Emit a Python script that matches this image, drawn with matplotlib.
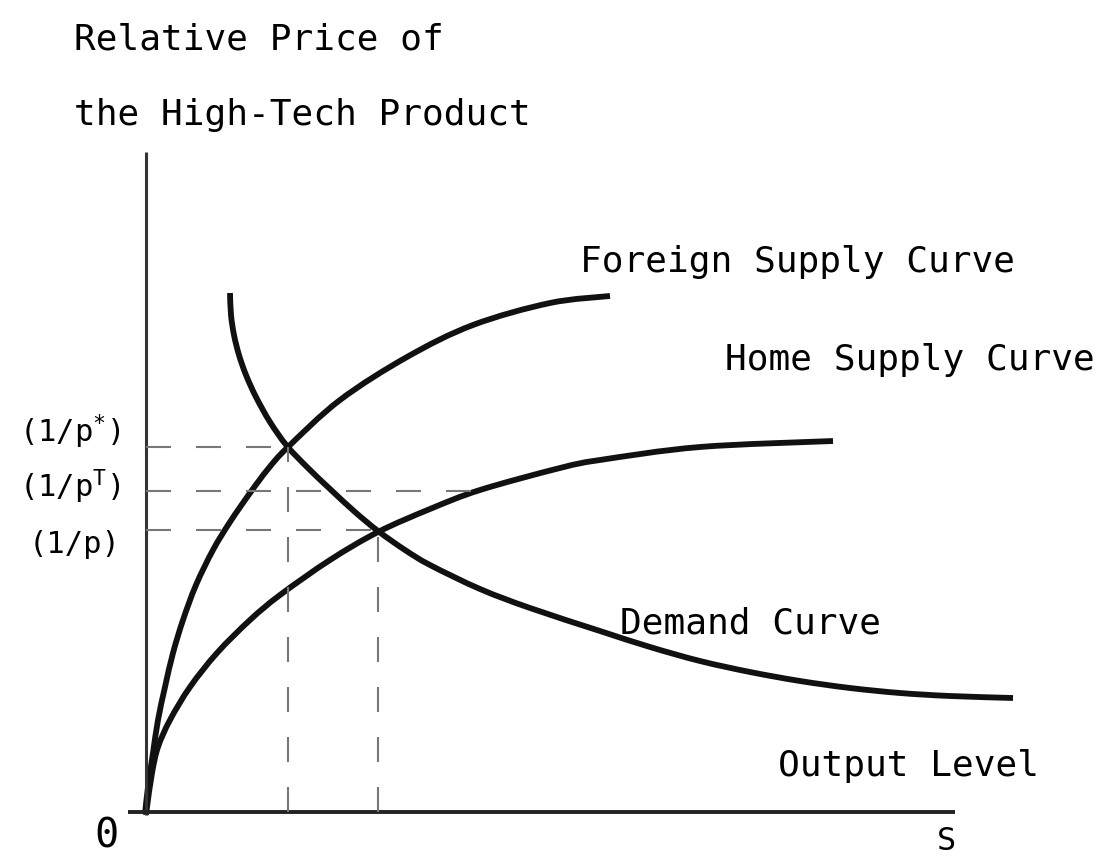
import matplotlib
matplotlib.use('Agg')
import matplotlib.pyplot as plt
from matplotlib.path import Path
from matplotlib.patches import PathPatch
import numpy as np

plt.rcParams['font.family'] = ['DejaVu Sans Mono', 'DejaVu Sans']
plt.rcParams['mathtext.fontset'] = 'custom'
plt.rcParams['mathtext.rm'] = 'DejaVu Sans Mono'
plt.rcParams['mathtext.default'] = 'rm'
plt.rcParams['lines.scale_dashes'] = False

# curves (output level, relative price)
foreign_x = [-0.01, 0.02, 0.07, 0.12, 0.19, 0.27, 0.37, 0.50, 0.67, 0.84, 1.04,
             1.22, 1.42, 1.94, 2.61, 3.27, 4.04, 4.64]
foreign_y = [-0.02, 0.25, 0.59, 0.92, 1.25, 1.59, 1.92, 2.27, 2.62, 2.90, 3.19,
             3.43, 3.65, 4.12, 4.55, 4.87, 5.09, 5.16]

home_x = [0.00, 0.01, 0.06, 0.12, 0.24, 0.44, 0.71, 1.04, 1.34, 1.84, 2.32,
          2.84, 3.34, 4.14, 4.54, 5.54, 6.87]
home_y = [-0.03, 0.05, 0.39, 0.65, 0.92, 1.25, 1.59, 1.92, 2.17, 2.52, 2.80,
          3.03, 3.22, 3.44, 3.52, 3.65, 3.71]

demand_x = [0.84, 0.85, 0.88, 0.93, 1.00, 1.10, 1.24, 1.41, 1.62, 1.84, 2.09,
            2.32, 2.59, 2.84, 3.34, 3.84, 4.54, 5.04, 5.54, 6.04, 6.54, 7.04,
            7.54, 8.04, 8.67]
demand_y = [5.19, 4.97, 4.77, 4.57, 4.37, 4.15, 3.90, 3.66, 3.44, 3.23, 3.00,
            2.81, 2.62, 2.47, 2.23, 2.04, 1.81, 1.65, 1.51, 1.40, 1.31, 1.24,
            1.19, 1.16, 1.14]

# price levels and the quantities where the dashed guides stop
price_levels = [3.65, 3.21, 2.82]
price_labels = [r'(1/p$^{*}$)', r'(1/p$^{\mathrm{T}}$)', '(1/p)']
guide_ends = [1.42, 3.31, 2.32]
quantity_marks = [1.42, 2.32]
quantity_tops = [3.65, 2.82]

curve_labels = ['Foreign Supply Curve', 'Home Supply Curve', 'Demand Curve']


def smooth_path(xs, ys):
    # bezier segments through every point (catmull-rom tangents)
    p = np.column_stack([xs, ys])
    p = np.vstack([p[0], p, p[-1]])
    verts = [p[1]]
    codes = [Path.MOVETO]
    for i in range(1, len(p) - 2):
        c1 = p[i] + (p[i + 1] - p[i - 1]) / 6
        c2 = p[i + 1] - (p[i + 2] - p[i]) / 6
        verts += [c1, c2, p[i + 1]]
        codes += [Path.CURVE4] * 3
    return Path(verts, codes)


fig = plt.figure(figsize=(10.99, 8.58), dpi=100)
ax = fig.add_axes([0, 0, 1, 1])
ax.set_xlim(-1.46, 9.53)
ax.set_ylim(-0.46, 8.12)
ax.axis('off')

# axes drawn by hand
ax.plot([0, 0], [-0.03, 6.60], color='#333333', lw=2.2, solid_capstyle='butt')
ax.plot([-0.18, 8.09], [0, 0], color='#222222', lw=2.8, solid_capstyle='butt')

# dashed guides
for lvl, end in zip(price_levels, guide_ends):
    ax.plot([0, end], [lvl, lvl], color='#777777', lw=1.5, dashes=(18, 18))
for q, top in zip(quantity_marks, quantity_tops):
    ax.plot([q, q], [0, top], color='#777777', lw=1.5, dashes=(18, 18))

# curves
for xs, ys in [(foreign_x, foreign_y), (home_x, home_y), (demand_x, demand_y)]:
    ax.add_patch(PathPatch(smooth_path(xs, ys), facecolor='none',
                           edgecolor='#111111', lw=4.2, capstyle='butt',
                           joinstyle='round'))

fs = 26
ax.text(-0.72, 7.62, 'Relative Price of', fontsize=fs, va='baseline')
ax.text(-0.72, 6.87, 'the High-Tech Product', fontsize=fs, va='baseline')
ax.text(4.34, 5.40, curve_labels[0], fontsize=fs, va='baseline')
ax.text(5.79, 4.42, curve_labels[1], fontsize=fs, va='baseline')
ax.text(4.74, 1.79, curve_labels[2], fontsize=fs, va='baseline')
ax.text(6.32, 0.36, 'Output Level', fontsize=fs, va='baseline')
ax.text(-0.40, -0.36, '0', fontsize=29, ha='center', va='baseline')
ax.text(8.00, -0.38, 'S', fontsize=23, ha='center', va='baseline')

for lab, yb in zip(price_labels, [3.70, 3.15, 2.59]):
    ax.text(-0.26, yb, lab, fontsize=22, ha='right', va='baseline')

fig.savefig('out.png', dpi=100)
